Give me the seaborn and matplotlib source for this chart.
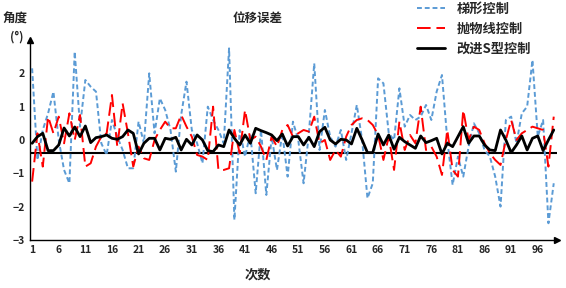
import numpy as np
import pandas as pd
import matplotlib
matplotlib.use("Agg")
import matplotlib.pyplot as plt
import seaborn as sns

runs = list(range(1, 100))
x_ticks = list(range(1, 100, 5))
y_ticks = [-3, -2, -1, 0, 1, 2]
series_names = ["梯形控制", "抛物线控制", "改进S型控制"]
baseline = -0.38

trapezoid = [2.15, -0.6, 0.3, 0.8, 1.45, 0.0, -0.9, -1.3, 2.65, 0.4,
             1.8, 1.6, 1.45, -0.1, -0.45, 0.6, 0.1, -0.3, -0.85, -0.85,
             0.55, -0.1, 2.0, 0.2, 1.25, 0.9, 0.3, -0.95, 0.75, 1.75,
             0.3, -0.1, -0.7, 1.0, 0.6, 0.3, -0.1, 2.75, -2.4, 0.3,
             -0.5, 0.2, -1.6, 0.3, -1.65, 0.1, -0.9, 0.2, -1.1, 0.55,
             0.0, -1.3, 0.2, 2.3, -0.3, 0.9, 0.1, -0.2, 0.3, -0.6,
             0.2, 1.05, 0.0, -1.75, -1.3, 1.85, 1.7, 0.2, 0.0, 1.55,
             0.4, 0.75, 0.6, 0.7, 1.05, 0.6, 1.45, 1.95, 0.0, -1.35,
             -0.5, -1.1, -0.2, 0.5, 0.2, -0.3, -0.5, -1.1, -2.0, 0.6,
             0.7, -0.1, 0.8, 1.0, 2.4, 0.1, 0.6, -2.5, -1.3]

parabolic = [-1.25, 0.2, -0.8, 0.7, 0.2, 0.7, -0.1, 0.8, 0.0, 0.75,
             -0.8, -0.7, -0.2, 0.1, 0.2, 1.35, -0.2, 1.1, 0.2, -0.8,
             -0.2, -0.55, -0.6, 0.0, 0.3, 0.55, 0.35, 0.35, 0.75, 0.4,
             0.1, -0.45, -0.5, -0.6, 1.0, -0.9, -0.9, -0.85, 0.3, -0.4,
             0.9, 0.0, 0.1, -0.2, -0.6, 0.1, -0.2, 0.3, 0.45, 0.1,
             0.2, 0.3, 0.25, 0.7, -0.1, 0.0, -0.6, -0.3, -0.5, 0.1,
             0.45, 0.6, 0.65, 0.6, 0.45, 0.15, -0.6, 0.1, -0.9, 0.55,
             -0.3, 0.15, -0.1, 1.0, -0.3, -0.2, -0.5, -1.05, 0.3, -0.9,
             -1.1, 0.9, 0.0, 0.4, 0.3, -0.1, -0.4, -0.6, -0.75, 0.0,
             0.6, 0.0, 0.2, 0.3, 0.4, 0.35, 0.3, -0.8, 0.7]

improved_s = [-0.1, 0.1, 0.2, -0.32, -0.32, -0.15, 0.36, 0.12, 0.39, 0.1,
              0.42, -0.08, 0.07, 0.1, 0.15, 0.05, 0.02, 0.1, 0.3, 0.2,
              -0.42, -0.1, 0.05, 0.05, -0.3, 0.05, 0.02, 0.08, -0.3, 0.02,
              -0.15, 0.15, 0.0, -0.32, -0.35, -0.15, -0.2, 0.3, 0.05, -0.15,
              0.15, -0.1, 0.35, 0.28, 0.22, 0.15, -0.02, 0.18, -0.18, 0.1,
              0.1, -0.15, 0.08, -0.2, 0.25, 0.38, 0.0, -0.12, 0.02, 0.0,
              -0.12, 0.35, 0.0, -0.38, -0.38, 0.18, -0.15, 0.15, -0.28, 0.08,
              -0.05, -0.15, -0.25, 0.12, -0.08, -0.02, 0.05, -0.42, -0.1, -0.2,
              0.1, 0.4, -0.1, 0.12, 0.12, -0.15, -0.3, -0.32, 0.3, 0.0,
              -0.38, -0.15, 0.12, -0.3, 0.05, 0.12, -0.32, 0.0, 0.3]

sns.set_theme(style="white")
plt.rcParams["font.family"] = ["Noto Sans CJK SC", "DejaVu Sans"]
plt.rcParams["font.weight"] = "bold"

fig = plt.figure(figsize=(5.66, 2.88), dpi=100)
ax = fig.add_axes([0.053, 0.167, 0.931, 0.694])

df = pd.DataFrame({"x": runs, "t": trapezoid, "p": parabolic, "s": improved_s})
sns.lineplot(data=df, x="x", y="t", ax=ax, color="#5B9BD5", linewidth=1.4,
             linestyle=(0, (2.5, 1.5)), label=series_names[0])
sns.lineplot(data=df, x="x", y="p", ax=ax, color="#FF0000", linewidth=1.4,
             linestyle=(0, (7, 3)), label=series_names[1])
sns.lineplot(data=df, x="x", y="s", ax=ax, color="#000000", linewidth=2.0,
             label=series_names[2])
ax.axhline(baseline, color="black", linewidth=1.5, zorder=1)

ax.set_xlim(0.6, 99.6)
ax.set_ylim(-3, 3)
ax.set_xticks(x_ticks)
ax.set_yticks(y_ticks)
ax.tick_params(axis="both", length=0, labelsize=7.5, pad=4)
for lab in ax.get_xticklabels() + ax.get_yticklabels():
    lab.set_fontweight("bold")
ax.set_xlabel("")
ax.set_ylabel("")
for s in ["top", "right"]:
    ax.spines[s].set_visible(False)
for s in ["left", "bottom"]:
    ax.spines[s].set_color("black")
    ax.spines[s].set_linewidth(1.0)
ax.plot(1, 0, ">", color="black", markersize=5, transform=ax.transAxes, clip_on=False)
ax.plot(0, 1, "^", color="black", markersize=5, transform=ax.transAxes, clip_on=False)

leg = ax.legend(loc="upper left", bbox_to_anchor=(417 / 566, 1 - 2 / 288),
                bbox_transform=fig.transFigure, frameon=False,
                fontsize=9.5, handlelength=2.1, handletextpad=0.9,
                labelspacing=0.45, borderaxespad=0, borderpad=0)
for t in leg.get_texts():
    t.set_fontweight("bold")

fig.text(0.455, 0.935, "位移误差", ha="center", va="center", fontsize=9, fontweight="bold")
fig.text(0.005, 0.935, "角度", ha="left", va="center", fontsize=9, fontweight="bold")
fig.text(0.018, 0.87, "(°)", ha="left", va="center", fontsize=8.5, fontweight="bold")
fig.text(0.455, 0.045, "次数", ha="center", va="center", fontsize=9.5, fontweight="bold")

fig.savefig("out.png", dpi=100)
